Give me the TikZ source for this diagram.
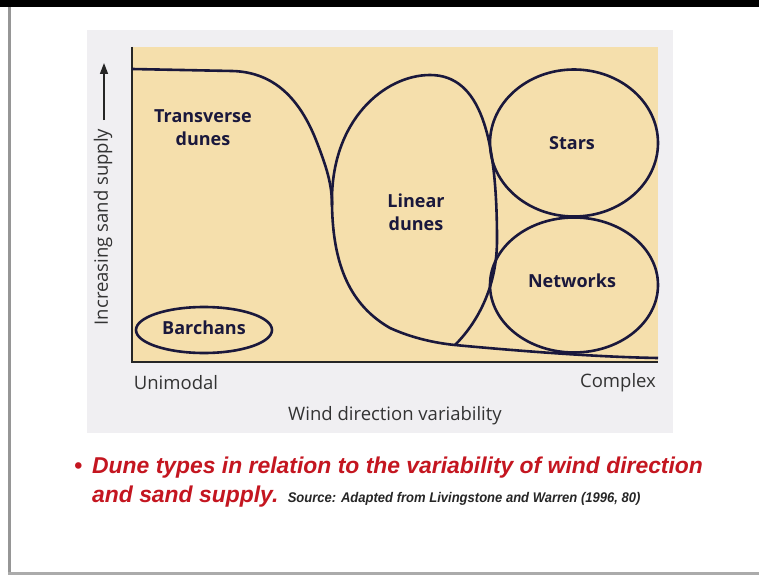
\documentclass[tikz,border=0pt]{standalone}
\usepackage{fontspec}
\setmainfont{Open Sans}
\newfontfamily\capfont{Liberation Sans}
\usetikzlibrary{shapes.geometric,arrows.meta,calc}
\definecolor{sand}{RGB}{245,223,172}
\definecolor{panel}{RGB}{240,239,242}
\definecolor{ink}{RGB}{26,24,60}
\definecolor{capred}{RGB}{196,22,32}
\definecolor{slidegrey}{RGB}{150,150,150}
\tikzset{
  bnd/.style={draw=ink, line width=2.6pt},
  zone/.style={ellipse, draw=ink, line width=2.6pt, inner sep=0pt},
  lbl/.style={font=\fontsize{18}{23}\selectfont\bfseries, text=ink, align=center},
  axlbl/.style={font=\fontsize{18.5}{22}\selectfont, text=black!80},
  captxt/.style={text=capred, font=\capfont\fontsize{22.9}{27}\selectfont\bfseries\itshape, anchor=base west, inner sep=0pt},
}
\begin{document}
\begin{tikzpicture}[x=1pt,y=-1pt]
\useasboundingbox (0,0) rectangle (759,575);
\fill[white] (0,0) rectangle (759,575);
\fill[black] (0,0) rectangle (759,7);
\fill[slidegrey] (8,7) rectangle (11,575);
\fill[slidegrey!80] (8,572) rectangle (759,575);
% figure panel
\fill[panel] (87,30) rectangle (673,433);
\fill[sand] (132,47) rectangle (658,362);
% axes
\coordinate (ytop) at (132,47);
\coordinate (orig) at (132,362);
\coordinate (xend) at (658,362);
\draw[draw=black!85, line width=2pt] (ytop) -- (orig) -- (xend);
% transverse / lower boundary
\coordinate (tstart) at (132,69);
\coordinate (tflat) at (232,71);
\coordinate (touch) at (332,205);
\coordinate (tip) at (455,345);
\coordinate (bend) at (658,358);
\draw[bnd] (tstart) -- (tflat) .. controls (275,72) and (300,100) .. (316,140)
  .. controls (327,168) and (332,185) .. (touch)
  .. controls (333,265) and (350,305) .. (390,328)
  .. controls (412,338) and (435,343) .. (tip)
  .. controls (530,352) and (600,357) .. (bend);
% linear dunes loop
\coordinate (ltop) at (430,75);
\draw[bnd] (touch) .. controls (330,120) and (385,75) .. (ltop)
  .. controls (480,75) and (497,135) .. (497,240)
  .. controls (497,290) and (475,325) .. (tip);
% zones
\node[zone, minimum width=168pt, minimum height=147pt] (stars) at (574,143) {};
\node[zone, minimum width=168pt, minimum height=135pt] (networks) at (574,285) {};
\node[zone, minimum width=136pt, minimum height=46pt] (barchans) at (204,330) {};
% labels
\node[lbl] (ttrans) at (203,128) {Transverse\\dunes};
\node[lbl] (tlin) at (416,212) {Linear\\dunes};
\node[lbl] (tstars) at (572,143) {Stars};
\node[lbl] (tnet) at (572,281) {Networks};
\node[lbl] (tbar) at (204,328) {Barchans};
\node[axlbl] (uni) at (176,383) {Unimodal};
\node[axlbl] (cplx) at (618,383) {Complex};
\node[axlbl] (wdv) at (395,416) {Wind direction variability};
\node[axlbl, rotate=90] (isup) at (103,227) {Increasing sand supply};
\coordinate (arb) at (104,120);
\coordinate (art) at (104,63);
\draw[black!85, line width=1.6pt, -{Triangle[length=11pt,width=8pt]}] (arb) -- (art);
% caption
\node[captxt] (bul) at (74,473) {\textbullet};
\node[captxt] (cap1) at (92,473) {Dune types in relation to the variability of wind direction};
\node[captxt] (cap2) at (92,502) {and sand supply.};
\node[text=black!85, font=\capfont\fontsize{14}{16}\selectfont\bfseries\itshape, anchor=base west, inner sep=0pt] (src) at ($(cap2.base east)+(9,0)$) {\scalebox{0.93}[1]{Source: Adapted from Livingstone and Warren (1996, 80)}};
\end{tikzpicture}
\end{document}
